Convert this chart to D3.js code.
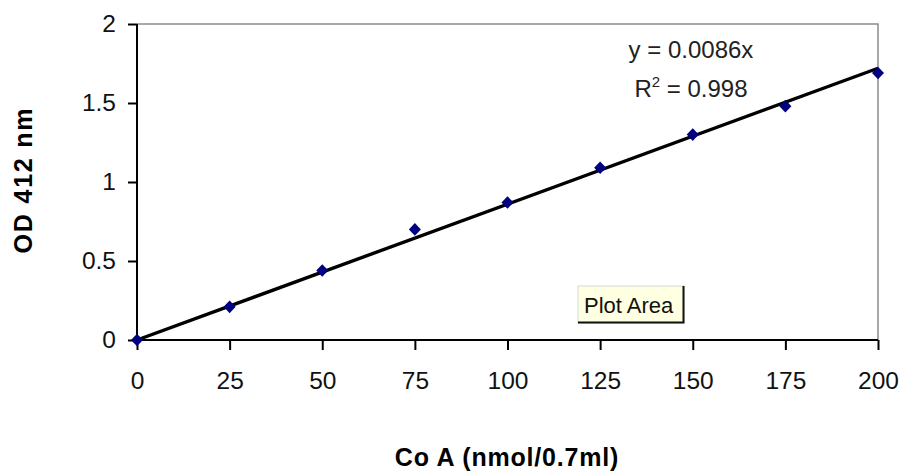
<!DOCTYPE html>
<html>
<head>
<meta charset="utf-8">
<script src="https://cdn.jsdelivr.net/npm/d3@7"></script>
<style>
  html, body { margin: 0; padding: 0; background: #fff; }
  svg { display: block; }
  text { font-family: "Liberation Sans", Arial, sans-serif; }
</style>
</head>
<body>
<svg id="chart" width="901" height="473"></svg>
<script>
// CoA standard curve: concentration vs absorbance at 412 nm
const concentrations = [0, 25, 50, 75, 100, 125, 150, 175, 200];
const absorbance = [0, 0.21, 0.44, 0.70, 0.87, 1.09, 1.30, 1.48, 1.69];
const xTicks = [0, 25, 50, 75, 100, 125, 150, 175, 200];
const yTicks = [0, 0.5, 1, 1.5, 2];
const slope = [0.0086];
const equationLines = ["y = 0.0086x", "R2 = 0.998"];

const svg = d3.select("#chart");
const plot = { left: 137, right: 878, top: 24, bottom: 340 };

const x = d3.scaleLinear().domain([0, 200]).range([plot.left, plot.right]);
const y = d3.scaleLinear().domain([0, 2]).range([plot.bottom, plot.top]);

// plot frame (top and right edges in grey)
svg.append("path")
  .attr("d", `M${plot.left},${plot.top}H${plot.right}V${plot.bottom}`)
  .attr("fill", "none")
  .attr("stroke", "#8c8c8c")
  .attr("stroke-width", 1.5);

// y axis
const yAxis = svg.append("g")
  .attr("transform", `translate(${plot.left},0)`)
  .call(d3.axisLeft(y).tickValues(yTicks).tickSize(9).tickPadding(12)
    .tickFormat(d3.format("")));
yAxis.select(".domain").attr("stroke", "#000").attr("stroke-width", 2)
  .attr("d", `M0,${plot.top}V${plot.bottom}`);
yAxis.selectAll(".tick line").attr("stroke", "#000").attr("stroke-width", 2);
yAxis.selectAll(".tick text")
  .attr("font-size", 24.5).attr("fill", "#111")
  .attr("font-family", "'Liberation Sans', Arial, sans-serif");

// x axis
const xAxis = svg.append("g")
  .attr("transform", `translate(0,${plot.bottom})`)
  .call(d3.axisBottom(x).tickValues(xTicks).tickSize(10).tickPadding(22));
xAxis.select(".domain").attr("stroke", "#000").attr("stroke-width", 2)
  .attr("d", `M${plot.left},0H${plot.right}`);
xAxis.selectAll(".tick line").attr("stroke", "#000").attr("stroke-width", 2);
xAxis.selectAll(".tick text")
  .attr("font-size", 24.5).attr("fill", "#111")
  .attr("font-family", "'Liberation Sans', Arial, sans-serif");

// linear trend line through the origin
const trend = [0, 200].map(c => [x(c), y(slope[0] * c)]);
svg.append("path")
  .attr("d", d3.line()(trend))
  .attr("stroke", "#000")
  .attr("stroke-width", 3.4)
  .attr("fill", "none");

// data markers (diamonds)
const diamond = d3.symbol().type(d3.symbolDiamond2).size(92);
svg.append("g").selectAll("path")
  .data(concentrations.map((c, i) => [c, absorbance[i]]))
  .join("path")
  .attr("d", diamond)
  .attr("transform", d => `translate(${x(d[0])},${y(d[1])}) scale(1,1.05)`)
  .attr("fill", "#000080");

// regression equation
const eq = svg.append("g").attr("font-size", 24).attr("fill", "#222");
eq.append("text").attr("x", 691).attr("y", 58).attr("text-anchor", "middle")
  .text(equationLines[0]);
const r2 = eq.append("text").attr("x", 691).attr("y", 97).attr("text-anchor", "middle");
r2.append("tspan").text("R");
r2.append("tspan").attr("font-size", 15).attr("dy", -10).text("2");
r2.append("tspan").attr("dy", 10).text(equationLines[1].slice(2));

// "Plot Area" tooltip
const tip = svg.append("g").attr("transform", "translate(578,286)");
tip.append("rect").attr("width", 106).attr("height", 37)
  .attr("fill", "#ffffe1").attr("stroke", "#d8d8d8").attr("stroke-width", 1);
tip.append("path").attr("d", "M105.5,0V36.5H0")
  .attr("fill", "none").attr("stroke", "#111").attr("stroke-width", 2);
tip.append("text").attr("x", 6).attr("y", 27).attr("font-size", 22)
  .attr("fill", "#111").text("Plot Area");

// axis titles
svg.append("text")
  .attr("x", 507).attr("y", 466)
  .attr("text-anchor", "middle")
  .attr("font-size", 25).attr("font-weight", "bold")
  .attr("letter-spacing", 0.8)
  .text("Co A (nmol/0.7ml)");

svg.append("text")
  .attr("transform", `translate(32,180) rotate(-90)`)
  .attr("text-anchor", "middle")
  .attr("font-size", 25).attr("font-weight", "bold")
  .attr("letter-spacing", 1.8)
  .text("OD 412 nm");
</script>
</body>
</html>
